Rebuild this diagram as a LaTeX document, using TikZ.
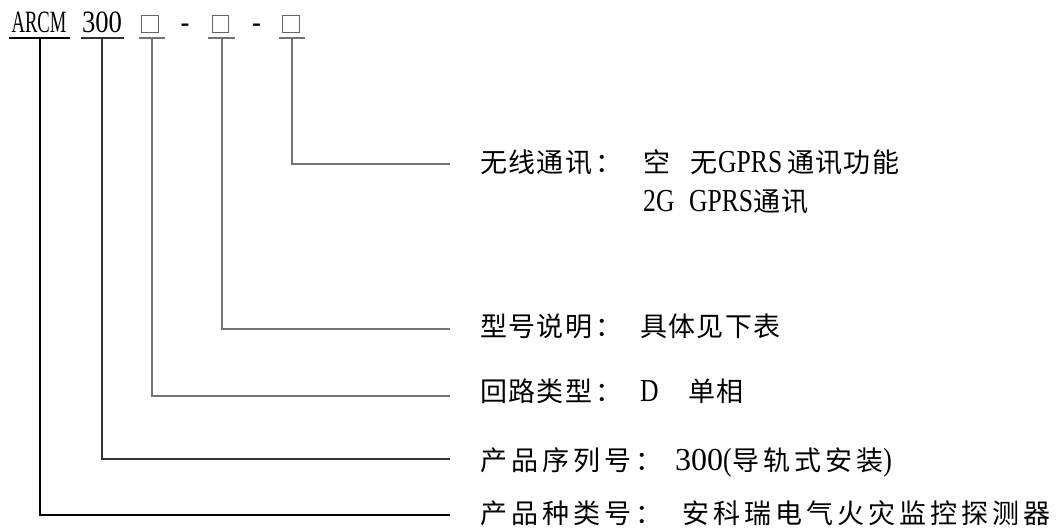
\documentclass[tikz,border=0pt]{standalone}
\usepackage{fontspec}
\newfontfamily\cjkA[LetterSpace=5]{Noto Sans CJK SC}
\newfontfamily\cjkB[LetterSpace=15]{Noto Sans CJK SC}
\newfontfamily\latN[FakeStretch=0.6]{Liberation Serif}
\newfontfamily\latT[FakeStretch=0.86]{Liberation Serif}
\newfontfamily\latB[FakeStretch=0.8]{Liberation Serif}
\newfontfamily\latD{Liberation Serif}
\newcommand{\LB}[1]{{\latB\fontsize{32}{32}\selectfont #1}}
\newcommand{\LD}[1]{{\latD\fontsize{32}{32}\selectfont #1}}
\tikzset{
  tok/.style={inner sep=0pt, anchor=base},
  sqbox/.style={draw=black!60, line width=1.1pt, minimum width=16.5pt, minimum height=17.5pt, inner sep=0pt},
  uline/.style={line width=1.2pt},
  conn/.style={line width=1.2pt},
  lblA/.style={inner sep=0pt, anchor=base west, font=\cjkA\fontsize{27}{27}\selectfont},
  lblB/.style={inner sep=0pt, anchor=base west, font=\cjkB\fontsize{27}{27}\selectfont},
}
\begin{document}
\begin{tikzpicture}[x=1pt,y=-1pt]
\useasboundingbox (0,0) rectangle (1056,527);
\fill[white] (0,0) rectangle (1056,527);
% top row tokens
\node[tok, font=\latN\fontsize{31}{31}\selectfont] (arcm) at (39,33) {ARCM};
\node[tok, font=\latT\fontsize{31}{31}\selectfont] (n300) at (102,33) {300};
\node[sqbox] (b1) at (150,24) {};
\node[tok, font=\latT\fontsize{31}{31}\selectfont] (d1) at (185,33) {-};
\node[sqbox] (b2) at (220.5,24) {};
\node[tok, font=\latT\fontsize{31}{31}\selectfont] (d2) at (256.5,33) {-};
\node[sqbox] (b3) at (291,24) {};
% underlines
\draw[uline] (9,38) -- (70,38);
\draw[uline, black!80] (81,38) -- (124,38);
\draw[uline, black!55] (139,38) -- (165,38);
\draw[uline, black!55] (208,38) -- (235,38);
\draw[uline, black!55] (279,38) -- (305,38);
% junctions
\coordinate (j1) at (40,38);
\coordinate (j2) at (102,38);
\coordinate (j3) at (152,38);
\coordinate (j4) at (222,38);
\coordinate (j5) at (292,38);
% line ends
\coordinate (e1) at (450,515);
\coordinate (e2) at (450,459);
\coordinate (e3) at (450,396);
\coordinate (e4) at (450,329);
\coordinate (e5) at (450,164);
% connectors
\draw[conn] (j1) |- (e1);
\draw[conn, black!80] (j2) |- (e2);
\draw[conn, black!55] (j3) |- (e3);
\draw[conn, black!55] (j4) |- (e4);
\draw[conn, black!55] (j5) |- (e5);
% labels
\node[lblA] (t5) at (480,172) {\makebox[163pt][l]{无线通讯\hspace{3pt}：}\makebox[47pt][l]{空}\makebox[28pt][l]{无}\makebox[69pt][l]{\LB{GPRS}}通讯功能};
\node[lblA] (t5b) at (643,211) {\makebox[46pt][l]{\LB{2G}}\makebox[64pt][l]{\LB{GPRS}}通讯};
\node[lblA] (t4) at (480,336) {\makebox[160pt][l]{型号说明\hspace{3pt}：}具体见下表};
\node[lblA] (t3) at (480,401) {\makebox[160pt][l]{回路类型\hspace{3pt}：}\makebox[48pt][l]{\LB{D}}单相};
\node[lblB] (t2) at (480,470) {\makebox[195pt][l]{产品序列号：}\makebox[48pt][l]{\LD{300}}\makebox[9pt][l]{\LB{(}}导轨式安装\LB{)}};
\node[lblB] (t1) at (480,523) {\makebox[202pt][l]{产品种类号：}安科瑞电气火灾监控探测器};
\end{tikzpicture}
\end{document}
